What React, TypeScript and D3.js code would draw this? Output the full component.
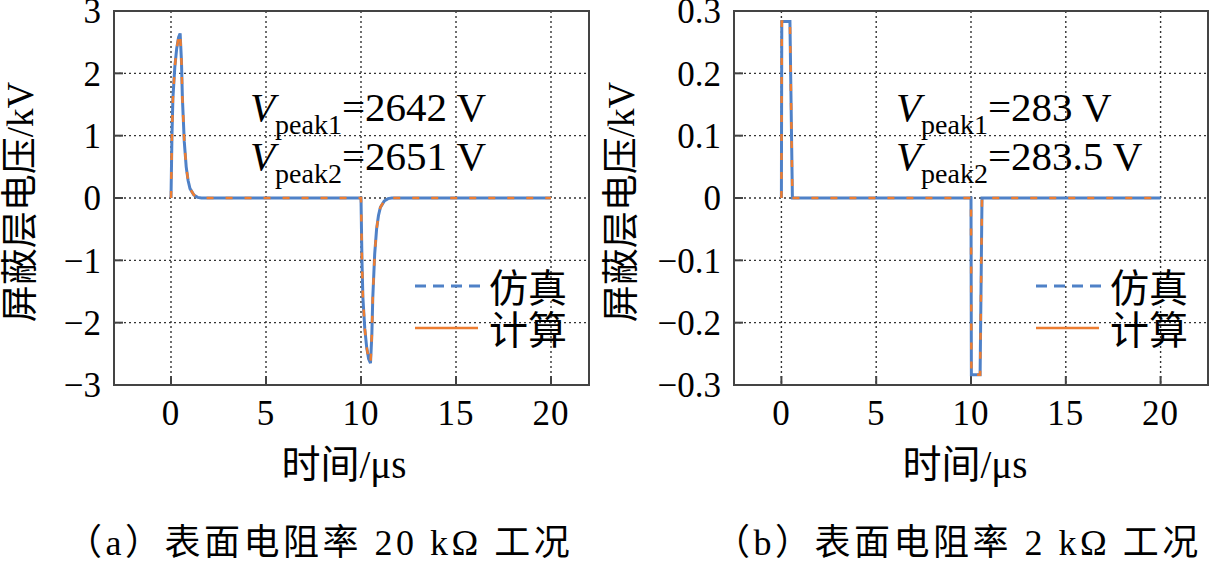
import React, { useEffect, useRef } from 'react';
import * as d3 from 'd3';

// panel (a): surface resistivity 20 kOhm
const timeA = [0, 0.05, 0.1, 0.2, 0.3, 0.4, 0.48, 0.55, 0.6, 0.7, 0.8, 0.9, 1.0, 1.2, 1.4, 1.6,
  10, 10.05, 10.1, 10.2, 10.3, 10.4, 10.5, 10.57, 10.62, 10.72, 10.82, 10.92, 11.02, 11.22, 11.42, 11.62, 20];
const simA = [0, 1.0, 1.6, 2.1, 2.4, 2.58, 2.64, 2.2, 1.6, 0.9, 0.5, 0.28, 0.15, 0.05, 0.01, 0,
  0, -1.0, -1.6, -2.1, -2.4, -2.58, -2.65, -2.2, -1.6, -0.9, -0.5, -0.28, -0.15, -0.05, -0.01, 0, 0];
const calcA = [0, 1.0, 1.6, 2.1, 2.4, 2.58, 2.642, 2.2, 1.6, 0.9, 0.5, 0.28, 0.15, 0.05, 0.01, 0,
  0, -1.0, -1.6, -2.1, -2.4, -2.58, -2.651, -2.2, -1.6, -0.9, -0.5, -0.28, -0.15, -0.05, -0.01, 0, 0];

// panel (b): surface resistivity 2 kOhm
const timeB = [0, 0.02, 0.45, 0.58, 10, 10.02, 10.48, 10.58, 20];
const simB = [0, 0.283, 0.283, 0, 0, -0.2835, -0.2835, 0, 0];
const calcB = [0, 0.283, 0.283, 0, 0, -0.2835, -0.2835, 0, 0];

const xTicks = [0, 5, 10, 15, 20];
const yTicksA = [-3, -2, -1, 0, 1, 2, 3];
const yTicksB = [-0.3, -0.2, -0.1, 0, 0.1, 0.2, 0.3];

const legendNames = ['仿真', '计算'];
const peakA = ['2642 V', '2651 V'];
const peakB = ['283 V', '283.5 V'];
const captions = ['（a）表面电阻率 20 kΩ 工况', '（b）表面电阻率 2 kΩ 工况'];

const blue = '#4f81c7';
const orange = '#ed7d31';
const serif = '"Liberation Serif", "Noto Sans CJK SC", serif';

const fmt = (v: number) => (v === 0 ? '0' : String(v).replace('-', '\u2212'));

function drawPanel(svg: any, p: any) {
  const x = d3.scaleLinear().domain(p.xDomain).range([p.left, p.right]);
  const y = d3.scaleLinear().domain(p.yDomain).range([p.bottom, p.top]);
  const g = svg.append('g');

  // grid
  g.selectAll('line.vgrid')
    .data(xTicks)
    .enter()
    .append('line')
    .attr('x1', (d: number) => x(d)).attr('x2', (d: number) => x(d))
    .attr('y1', p.top).attr('y2', p.bottom)
    .attr('stroke', '#333').attr('stroke-width', 1.4).attr('stroke-dasharray', '2 3');
  g.selectAll('line.hgrid')
    .data(p.yTicks.slice(1, -1))
    .enter()
    .append('line')
    .attr('x1', p.left).attr('x2', p.right)
    .attr('y1', (d: number) => y(d)).attr('y2', (d: number) => y(d))
    .attr('stroke', '#333').attr('stroke-width', 1.4).attr('stroke-dasharray', '2 3');

  // inward ticks
  g.selectAll('line.yt')
    .data(p.yTicks)
    .enter()
    .append('line')
    .attr('x1', p.left).attr('x2', p.left + 9)
    .attr('y1', (d: number) => y(d)).attr('y2', (d: number) => y(d))
    .attr('stroke', '#444').attr('stroke-width', 2);
  g.selectAll('line.xt')
    .data(xTicks)
    .enter()
    .append('line')
    .attr('x1', (d: number) => x(d)).attr('x2', (d: number) => x(d))
    .attr('y1', p.bottom).attr('y2', p.bottom - 9)
    .attr('stroke', '#444').attr('stroke-width', 2);

  // curves
  const line = d3.line<number>()
    .x((d, i) => x(p.time[i]))
    .y((d) => y(d));
  g.append('path').datum(p.sim).attr('d', line)
    .attr('fill', 'none').attr('stroke', blue).attr('stroke-width', 3);
  g.append('path').datum(p.calc).attr('d', line)
    .attr('fill', 'none').attr('stroke', orange).attr('stroke-width', 2.5)
    .attr('stroke-dasharray', '7 12');

  // frame
  g.append('rect')
    .attr('x', p.left).attr('y', p.top)
    .attr('width', p.right - p.left).attr('height', p.bottom - p.top)
    .attr('fill', 'none').attr('stroke', '#444').attr('stroke-width', 2);

  // tick labels
  g.selectAll('text.yl')
    .data(p.yTicks)
    .enter()
    .append('text')
    .attr('x', p.left - 13)
    .attr('y', (d: number) => y(d))
    .attr('dy', '0.35em')
    .attr('text-anchor', 'end')
    .style('font-family', serif).style('font-size', '35px')
    .text((d: number) => fmt(d));
  g.selectAll('text.xl')
    .data(xTicks)
    .enter()
    .append('text')
    .attr('x', (d: number) => x(d))
    .attr('y', 425)
    .attr('text-anchor', 'middle')
    .style('font-family', serif).style('font-size', '35px')
    .style('letter-spacing', '1px')
    .text((d: number) => fmt(d));

  // axis titles
  g.append('text')
    .attr('transform', `translate(${p.yTitleX},202) rotate(-90)`)
    .attr('text-anchor', 'middle')
    .attr('dy', '0.36em')
    .style('font-family', serif).style('font-size', '37px')
    .text('屏蔽层电压/kV');
  g.append('text')
    .attr('x', p.xTitleX).attr('y', 478)
    .attr('text-anchor', 'middle')
    .style('font-family', serif).style('font-size', '39px')
    .text('时间/μs');

  // peak annotations
  p.peaks.forEach((val: string, i: number) => {
    const t = g.append('text')
      .attr('x', p.annX).attr('y', 121 + i * 49)
      .style('font-family', serif).style('font-size', '41px');
    t.append('tspan').style('font-style', 'italic').text('V');
    t.append('tspan').attr('dy', 13).style('font-size', '28px').text('peak' + (i + 1));
    t.append('tspan').attr('dy', -13).text('=' + val);
  });

  // legend
  const lg = g.append('g');
  lg.append('line')
    .attr('x1', p.legX).attr('x2', p.legX + 65).attr('y1', 286).attr('y2', 286)
    .attr('stroke', blue).attr('stroke-width', 3).attr('stroke-dasharray', '11 7');
  lg.append('line')
    .attr('x1', p.legX).attr('x2', p.legX + 63).attr('y1', 328).attr('y2', 328)
    .attr('stroke', orange).attr('stroke-width', 2.5);
  lg.selectAll('text')
    .data(legendNames)
    .enter()
    .append('text')
    .attr('x', p.legX + 74)
    .attr('y', (d: string, i: number) => 288 + i * 42)
    .attr('dy', '0.36em')
    .style('font-family', '"Noto Sans CJK SC", sans-serif').style('font-size', '39px')
    .text((d: string) => d);

  // caption
  g.append('text')
    .attr('x', p.capX).attr('y', 555)
    .style('font-family', serif).style('font-size', '36px')
    .style('letter-spacing', '3.5px')
    .text(p.caption);
}

const App = () => {
  const ref = useRef<SVGSVGElement>(null);

  useEffect(() => {
    const svg = d3.select(ref.current);
    svg.selectAll('*').remove();
    svg.append('rect').attr('width', 1213).attr('height', 561).attr('fill', '#fff');

    drawPanel(svg, {
      left: 114, right: 589, top: 11, bottom: 385,
      xDomain: [-3, 22], yDomain: [-3, 3], yTicks: yTicksA,
      time: timeA, sim: simA, calc: calcA,
      yTitleX: 20, xTitleX: 344, annX: 250, peaks: peakA, legX: 415,
      capX: 66, caption: captions[0],
    });
    drawPanel(svg, {
      left: 734, right: 1208, top: 11, bottom: 385,
      xDomain: [-2.5, 22.5], yDomain: [-0.3, 0.3], yTicks: yTicksB,
      time: timeB, sim: simB, calc: calcB,
      yTitleX: 621, xTitleX: 965, annX: 896, peaks: peakB, legX: 1036,
      capX: 714, caption: captions[1],
    });
  }, []);

  return (
    <svg ref={ref} width={1213} height={561}
      style={{ position: 'absolute', left: 0, top: 0, display: 'block' }} />
  );
};

export default App;
